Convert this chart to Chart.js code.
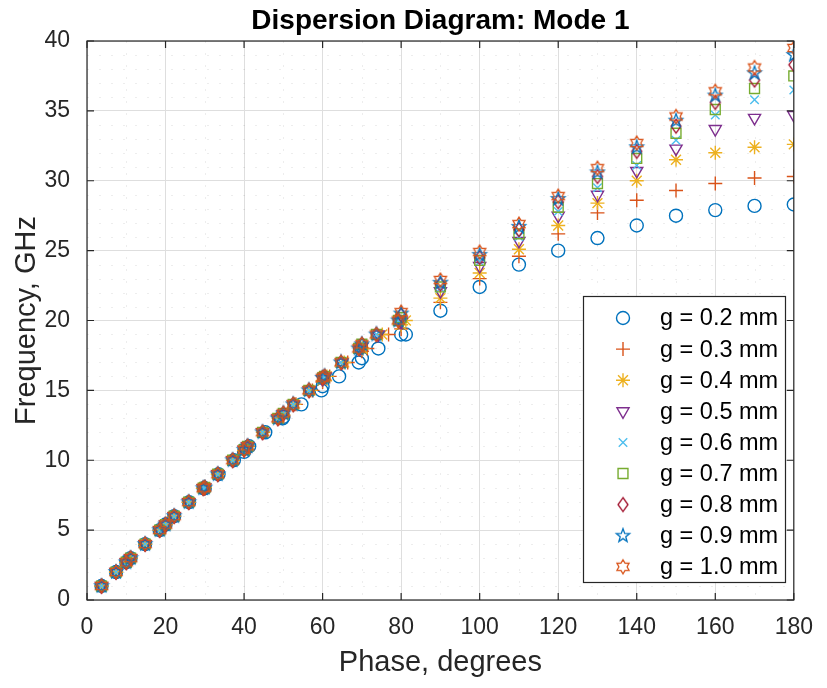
<!DOCTYPE html>
<html>
<head>
<meta charset="utf-8">
<script src="https://cdn.jsdelivr.net/npm/chart.js@4.4.1/dist/chart.umd.min.js"></script>
<style>
  html, body { margin: 0; padding: 0; background: #fff; }
  #wrap { width: 827px; height: 688px; }
</style>
</head>
<body>
<div id="wrap"><canvas id="dispersion"></canvas></div>
<script>
// ---- data ----
// phase sweep (x, degrees) -> frequency (GHz) for each gap
const phaseSteps = [10, 20, 30, 40, 50, 60, 70, 80, 90, 100, 110, 120, 130, 140, 150, 160, 170, 180];
// frequency sweep (GHz) -> phase (degrees) for each gap
const freqSteps = [1, 2, 3, 4, 5, 6, 7, 8, 9, 10, 11, 12, 13, 14, 15, 16, 17, 18, 19, 20];

const seriesLabels = ['g = 0.2 mm', 'g = 0.3 mm', 'g = 0.4 mm', 'g = 0.5 mm', 'g = 0.6 mm',
                      'g = 0.7 mm', 'g = 0.8 mm', 'g = 0.9 mm', 'g = 1.0 mm'];

const freqAtPhase02 = [2.7, 5.4, 8.0, 10.6, 13.1, 15.3, 17.3, 19.0, 20.7, 22.4, 24.0, 25.0, 25.9, 26.8, 27.5, 27.9, 28.2, 28.3];
const freqAtPhase03 = [2.7, 5.4, 8.05, 10.7, 13.2, 15.6, 17.8, 19.4, 21.3, 23.0, 24.6, 26.2, 27.7, 28.6, 29.3, 29.8, 30.2, 30.3];
const freqAtPhase04 = [2.7, 5.4, 8.05, 10.7, 13.25, 15.7, 18.0, 19.7, 21.6, 23.4, 25.1, 26.8, 28.4, 30.0, 31.5, 32.0, 32.4, 32.6];
const freqAtPhase05 = [2.7, 5.4, 8.05, 10.75, 13.3, 15.8, 18.1, 19.9, 22.1, 23.9, 25.7, 27.5, 29.0, 30.7, 32.3, 33.7, 34.5, 34.7];
const freqAtPhase06 = [2.7, 5.4, 8.05, 10.75, 13.35, 15.9, 18.3, 20.1, 22.3, 24.2, 26.0, 27.8, 29.5, 31.1, 32.9, 34.7, 35.8, 36.5];
const freqAtPhase07 = [2.7, 5.4, 8.05, 10.75, 13.35, 15.9, 18.3, 20.2, 22.4, 24.3, 26.2, 28.1, 29.8, 31.6, 33.4, 35.1, 36.6, 37.5];
const freqAtPhase08 = [2.7, 5.4, 8.05, 10.75, 13.35, 15.9, 18.3, 20.4, 22.6, 24.5, 26.5, 28.5, 30.3, 32.1, 33.9, 35.6, 37.2, 38.3];
const freqAtPhase09 = [2.7, 5.4, 8.05, 10.75, 13.35, 15.9, 18.3, 20.5, 22.7, 24.7, 26.7, 28.7, 30.6, 32.4, 34.3, 36.1, 37.7, 39.0];
const freqAtPhase10 = [2.7, 5.4, 8.05, 10.75, 13.35, 15.9, 18.3, 20.6, 22.9, 24.9, 26.9, 28.9, 30.9, 32.7, 34.6, 36.4, 38.1, 39.5];

const phaseAtFreq02 = [3.7, 7.4, 11.1, 14.8, 18.5, 22.2, 26.0, 29.7, 33.5, 37.4, 41.3, 45.4, 49.8, 54.6, 59.7, 64.2, 69.2, 74.2, 81.2];
const phaseAtFreq03 = [3.7, 7.4, 11.1, 14.8, 18.5, 22.2, 25.9, 29.6, 33.4, 37.2, 41.0, 44.9, 49.0, 53.2, 57.4, 61.8, 66.4, 71.4, 76.8];
const phaseAtFreq04 = [3.7, 7.4, 11.1, 14.8, 18.5, 22.2, 25.9, 29.6, 33.3, 37.1, 40.9, 44.8, 48.8, 52.8, 56.9, 61.1, 65.5, 70.2, 75.2, 81.2];
const phaseAtFreq05 = [3.7, 7.4, 11.1, 14.8, 18.5, 22.2, 25.9, 29.6, 33.3, 37.1, 40.9, 44.7, 48.6, 52.6, 56.6, 60.7, 64.9, 69.5, 74.2, 80.0];
const phaseAtFreq06 = [3.7, 7.4, 11.1, 14.8, 18.5, 22.2, 25.9, 29.6, 33.3, 37.1, 40.9, 44.7, 48.6, 52.5, 56.5, 60.5, 64.7, 69.2, 73.7, 79.3];
const phaseAtFreq07 = phaseAtFreq06;
const phaseAtFreq08 = phaseAtFreq06;
const phaseAtFreq09 = phaseAtFreq06;
const phaseAtFreq10 = phaseAtFreq06;

// MATLAB default line colours
const matlabColors = ['#0072BD', '#D95319', '#EDB120', '#7E2F8E', '#4DBEEE', '#77AC30', '#A2142F', '#0072BD', '#D95319'];

// ---- marker images for shapes Chart.js doesn't have ----
function makeMarker(color, drawPath) {
  const c = document.createElement('canvas');
  c.width = 18; c.height = 18;
  const g = c.getContext('2d');
  g.strokeStyle = color;
  g.lineWidth = 1.3;
  g.lineJoin = 'miter';
  g.beginPath();
  drawPath(g, 9, 9);
  g.closePath();
  g.stroke();
  return c;
}
function starPath(points, outer, inner) {
  return (g, cx, cy) => {
    for (let i = 0; i < points * 2; i++) {
      const r = i % 2 === 0 ? outer : inner;
      const a = -Math.PI / 2 + i * Math.PI / points;
      const px = cx + r * Math.cos(a), py = cy + r * Math.sin(a);
      if (i === 0) g.moveTo(px, py); else g.lineTo(px, py);
    }
  };
}
const diamondPath = (g, cx, cy) => {
  g.moveTo(cx, cy - 7); g.lineTo(cx + 5, cy); g.lineTo(cx, cy + 7); g.lineTo(cx - 5, cy);
};

const markerStyles = [
  { pointStyle: 'circle', radius: 6.5 },
  { pointStyle: 'cross', radius: 7 },
  { pointStyle: 'star', radius: 7 },
  { pointStyle: 'triangle', radius: 7, rotation: 180 },
  { pointStyle: 'crossRot', radius: 6 },
  { pointStyle: 'rect', radius: 7 },
  { pointStyle: makeMarker(matlabColors[6], diamondPath), radius: 7 },
  { pointStyle: makeMarker(matlabColors[7], starPath(5, 7, 2.9)), radius: 7 },
  { pointStyle: makeMarker(matlabColors[8], starPath(6, 7, 4.1)), radius: 7 }
];

function buildPoints(freqAtPhase, phaseAtFreq) {
  const pts = phaseSteps.map((x, i) => ({ x: x, y: freqAtPhase[i] }));
  phaseAtFreq.forEach((x, i) => pts.push({ x: x, y: freqSteps[i] }));
  return pts;
}

const allFreqAtPhase = [freqAtPhase02, freqAtPhase03, freqAtPhase04, freqAtPhase05, freqAtPhase06,
                        freqAtPhase07, freqAtPhase08, freqAtPhase09, freqAtPhase10];
const allPhaseAtFreq = [phaseAtFreq02, phaseAtFreq03, phaseAtFreq04, phaseAtFreq05, phaseAtFreq06,
                        phaseAtFreq07, phaseAtFreq08, phaseAtFreq09, phaseAtFreq10];

const datasets = seriesLabels.map((label, i) => ({
  label: label,
  data: buildPoints(allFreqAtPhase[i], allPhaseAtFreq[i]),
  showLine: false,
  pointStyle: markerStyles[i].pointStyle,
  pointRadius: markerStyles[i].radius,
  pointRotation: markerStyles[i].rotation || 0,
  pointBorderWidth: 1.4,
  pointBorderColor: matlabColors[i],
  pointBackgroundColor: 'rgba(0,0,0,0)',
  order: seriesLabels.length - i   // later series on top, like MATLAB
}));

const FONT = '"Liberation Sans", Arial, Helvetica, sans-serif';
const AXIS_COLOR = '#262626';
const TITLE = 'Dispersion Diagram: Mode 1';

// ---- title over the axes, box, inward ticks, minor grid and legend (MATLAB look) ----
const matlabAxes = {
  id: 'matlabAxes',
  beforeDatasetsDraw(chart) {
    const { ctx, chartArea: a, scales: { x, y } } = chart;
    ctx.save();
    ctx.strokeStyle = 'rgba(0,0,0,0.07)';
    ctx.lineWidth = 1;
    ctx.setLineDash([2, 10]);
    for (let v = 10; v < 180; v += 20) {
      const px = Math.round(x.getPixelForValue(v)) + 0.5;
      ctx.beginPath(); ctx.moveTo(px, a.top); ctx.lineTo(px, a.bottom); ctx.stroke();
    }
    for (let v = 1; v < 40; v++) {
      if (v % 5 === 0) continue;
      const py = Math.round(y.getPixelForValue(v)) + 0.5;
      ctx.beginPath(); ctx.moveTo(a.left, py); ctx.lineTo(a.right, py); ctx.stroke();
    }
    ctx.restore();
  },
  afterDatasetsDraw(chart) {
    const { ctx, chartArea: a, scales: { x, y } } = chart;
    ctx.save();
    ctx.strokeStyle = AXIS_COLOR;
    ctx.lineWidth = 1.2;
    ctx.strokeRect(a.left, a.top, a.right - a.left, a.bottom - a.top);
    const tl = 7;
    ctx.beginPath();
    x.ticks.forEach(t => {
      const px = x.getPixelForValue(t.value);
      ctx.moveTo(px, a.bottom); ctx.lineTo(px, a.bottom - tl);
      ctx.moveTo(px, a.top); ctx.lineTo(px, a.top + tl);
    });
    y.ticks.forEach(t => {
      const py = y.getPixelForValue(t.value);
      ctx.moveTo(a.left, py); ctx.lineTo(a.left + tl, py);
      ctx.moveTo(a.right, py); ctx.lineTo(a.right - tl, py);
    });
    ctx.stroke();
    ctx.restore();
  },
  afterDraw(chart) {
    const ctx = chart.ctx;
    const a = chart.chartArea;
    ctx.save();
    // title centred over the plot box
    ctx.fillStyle = '#000';
    ctx.font = 'bold 28px ' + FONT;
    ctx.textAlign = 'center';
    ctx.textBaseline = 'middle';
    ctx.fillText(TITLE, (a.left + a.right) / 2, 21);

    // legend
    const box = { left: 583, top: 296, right: 785, bottom: 582 };
    ctx.fillStyle = '#fff';
    ctx.fillRect(box.left, box.top, box.right - box.left, box.bottom - box.top);
    ctx.strokeStyle = AXIS_COLOR;
    ctx.lineWidth = 1.2;
    ctx.strokeRect(box.left + 0.5, box.top + 0.5, box.right - box.left, box.bottom - box.top);
    ctx.font = '23.5px ' + FONT;
    ctx.textBaseline = 'middle';
    ctx.textAlign = 'left';
    chart.data.datasets.forEach((ds, i) => {
      const cy = box.top + 22 + i * 31.1;
      ctx.strokeStyle = ds.pointBorderColor;
      ctx.fillStyle = 'rgba(0,0,0,0)';
      ctx.lineWidth = ds.pointBorderWidth;
      Chart.helpers.drawPoint(ctx, {
        pointStyle: ds.pointStyle, rotation: ds.pointRotation,
        radius: ds.pointRadius, borderWidth: ds.pointBorderWidth
      }, 623, cy);
      ctx.fillStyle = '#000';
      ctx.fillText(ds.label, 660, cy + 1);
    });
    ctx.restore();
  }
};

new Chart(document.getElementById('dispersion'), {
  type: 'scatter',
  data: { datasets: datasets },
  plugins: [matlabAxes],
  options: {
    responsive: true,
    maintainAspectRatio: false,
    animation: false,
    layout: { padding: { left: 0, right: 23, top: 41, bottom: 0 } },
    plugins: {
      legend: { display: false },
      tooltip: { enabled: false },
      title: { display: false }
    },
    scales: {
      x: {
        type: 'linear', min: 0, max: 180,
        ticks: { stepSize: 20, color: AXIS_COLOR, font: { family: FONT, size: 23 }, padding: 14, maxRotation: 0 },
        grid: { color: '#dedede', drawTicks: false },
        border: { display: false },
        title: { display: true, text: 'Phase, degrees', color: AXIS_COLOR,
                 font: { family: FONT, size: 29 }, padding: { top: 0, bottom: 8 } },
        afterFit(scale) { scale.height = 88; }
      },
      y: {
        type: 'linear', min: 0, max: 40,
        ticks: { stepSize: 5, color: AXIS_COLOR, font: { family: FONT, size: 23 }, padding: 17 },
        grid: { color: '#dedede', drawTicks: false },
        border: { display: false },
        title: { display: true, text: 'Frequency, GHz', color: AXIS_COLOR,
                 font: { family: FONT, size: 29 }, padding: { top: 10, bottom: 0 } },
        afterFit(scale) { scale.width = 87; }
      }
    }
  }
});
</script>
</body>
</html>
